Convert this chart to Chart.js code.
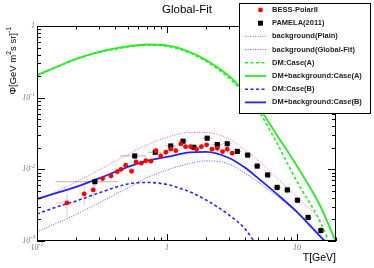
<!DOCTYPE html>
<html>
<head>
<meta charset="utf-8">
<script src="https://cdn.jsdelivr.net/npm/chart.js@4.4.0/dist/chart.umd.min.js"></script>
<style>
html, body { margin: 0; padding: 0; background: #fff; }
#wrap { width: 374px; height: 268px; }
</style>
</head>
<body>
<div id="wrap"><canvas id="fitChart" width="374" height="268"></canvas></div>
<script>
const curveT   = [0.1, 0.15, 0.2, 0.3, 0.5, 0.7, 1, 1.5, 2, 3, 4, 5, 7, 10, 15, 20];
const bgPlain  = [3.62e-3, 5.16e-3, 6.67e-3, 9.8e-3, 0.0161, 0.0219, 0.0279, 0.0327, 0.0327, 0.0265, 0.0184, 0.0135, 7.59e-3, 4.12e-3, 2.03e-3, 1.18e-3];
const bgGlobal = [1.34e-3, 1.85e-3, 2.35e-3, 3.40e-3, 5.5e-3, 7.59e-3, 9.8e-3, 0.0121, 0.0131, 0.0119, 8.77e-3, 6.67e-3, 4.26e-3, 2.47e-3, 1.14e-3, 6.8e-4];
const dmA      = [0.205, 0.278, 0.343, 0.428, 0.508, 0.540, 0.522, 0.420, 0.322, 0.188, 0.110, 0.068, 0.0235, 6.8e-3, 1.9e-3, 5.5e-4];
const dmBgA    = [0.207, 0.281, 0.347, 0.434, 0.518, 0.552, 0.535, 0.434, 0.336, 0.201, 0.118, 0.0766, 0.0302, 0.01115, 3.18e-3, 9.7e-4];
const dmB      = [2.39e-3, 3.09e-3, 3.62e-3, 4.69e-3, 6.26e-3, 6.56e-3, 6.15e-3, 4.84e-3, 3.74e-3, 2.31e-3, 1.47e-3, 8.3e-4, null, null, null, null];
const dmBgB    = [3.86e-3, 4.84e-3, 5.69e-3, 7.46e-3, 0.0108, 0.0131, 0.0149, 0.0172, 0.0175, 0.0144, 0.0105, 7.59e-3, 4.54e-3, 2.55e-3, 1.18e-3, 7.0e-4];

// BESS-PolarII antiprotons
const bessT = [0.170, 0.231, 0.271, 0.320, 0.371, 0.415, 0.443, 0.481, 0.535, 0.578, 0.634, 0.689, 0.753, 0.823, 0.895, 0.982, 1.07, 1.17, 1.28, 1.39, 1.52, 1.69, 1.84, 2.02, 2.22, 2.44, 2.68, 2.91, 3.18];
const bessFlux = [3.40e-3, 4.54e-3, 5.16e-3, 7.42e-3, 8.09e-3, 9.29e-3, 0.0100, 0.0114, 9.41e-3, 0.0127, 0.0122, 0.0132, 0.0130, 0.0182, 0.0154, 0.0173, 0.0191, 0.0182, 0.0226, 0.0207, 0.0207, 0.0191, 0.0207, 0.0220, 0.0191, 0.0197, 0.0177, 0.0191, 0.0168];
const bessTErr = [0.03, 0.02, 0.02, 0.02, 0.02, 0.02, 0.02, 0.02, 0.025, 0.025, 0.03, 0.03, 0.03, 0.035, 0.04, 0.04, 0.045, 0.05, 0.05, 0.06, 0.06, 0.07, 0.07, 0.08, 0.08, 0.09, 0.1, 0.1, 0.11];
const bessFluxErr = [1.2e-3, 1.4e-3, 1.1e-3, 1.0e-3, 1.0e-3, 1.0e-3, 1.0e-3, 1.1e-3, 1.0e-3, 1.2e-3, 1.2e-3, 1.3e-3, 1.3e-3, 1.6e-3, 1.4e-3, 1.5e-3, 1.6e-3, 1.6e-3, 1.8e-3, 1.8e-3, 1.8e-3, 1.8e-3, 1.9e-3, 2.0e-3, 1.9e-3, 2.0e-3, 1.9e-3, 2.0e-3, 2.0e-3];

// PAMELA(2011)
const pamT = [0.279, 0.565, 0.813, 1.07, 1.33, 1.61, 2.04, 2.44, 2.91, 3.48, 4.18, 4.95, 5.96, 7.05, 8.45, 10.1, 12.2, 15.3];
const pamFlux = [6.73e-3, 0.01538, 0.0173, 0.0212, 0.0247, 0.0203, 0.0272, 0.0222, 0.0228, 0.0178, 0.0158, 0.0111, 8.35e-3, 5.6e-3, 5.16e-3, 3.71e-3, 2.13e-3, 1.40e-3];
const pamTErr = [0.14, 0.13, 0.1, 0.1, 0.12, 0.14, 0.16, 0.2, 0.22, 0.26, 0.3, 0.35, 0.4, 0.5, 0.6, 0.7, 0.8, 1.0];
const pamFluxErr = [1.0e-3, 1.5e-3, 1.6e-3, 2.0e-3, 2.2e-3, 2.0e-3, 2.4e-3, 2.0e-3, 2.0e-3, 1.6e-3, 1.4e-3, 1.0e-3, 8e-4, 6e-4, 5.5e-4, 4e-4, 2.5e-4, 1.8e-4];

const xTickMajors = [0.1, 1, 10];
const yTickMajors = [1e-3, 1e-2, 1e-1, 1];

function pts(xs, ys) {
    const out = [];
    xs.forEach((x, i) => { if (ys[i] !== null) out.push({ x: x, y: ys[i] }); });
    return out;
}

// small helper: "10" with a raised exponent
function drawPow(ctx, base, exp, x, y, size, align, style) {
    const big = style + ' ' + size + 'px "Liberation Serif"';
    const small = style + ' ' + (size * 0.72) + 'px "Liberation Serif"';
    ctx.font = big;
    const wb = ctx.measureText(base).width;
    ctx.font = small;
    const we = exp ? ctx.measureText(exp).width : 0;
    const w = wb + we;
    let x0 = x;
    if (align === 'right') x0 = x - w;
    if (align === 'center') x0 = x - w / 2;
    ctx.textAlign = 'left';
    ctx.textBaseline = 'middle';
    ctx.font = big;
    ctx.fillText(base, x0, y);
    if (exp) {
        ctx.font = small;
        ctx.fillText(exp, x0 + wb, y - size * 0.4);
    }
}

function expOf(v) {
    const e = Math.round(Math.log10(v));
    if (e === 0) return ['1', ''];
    if (e === 1) return ['10', ''];
    return ['10', String(e)];
}

const errorBars = {
    id: 'errorBars',
    beforeDatasetsDraw(chart) {
        const ctx = chart.ctx, xs = chart.scales.x, ys = chart.scales.y, a = chart.chartArea;
        ctx.save();
        ctx.beginPath();
        ctx.rect(a.left, a.top, a.width, a.height);
        ctx.clip();
        chart.data.datasets.forEach(ds => {
            if (!ds.xErr) return;
            ctx.strokeStyle = ds.errColor;
            ctx.lineWidth = 1;
            ds.data.forEach((p, i) => {
                const px = xs.getPixelForValue(p.x), py = ys.getPixelForValue(p.y);
                ctx.beginPath();
                ctx.moveTo(xs.getPixelForValue(p.x - ds.xErr[i]), py);
                ctx.lineTo(xs.getPixelForValue(p.x + ds.xErr[i]), py);
                ctx.moveTo(px, ys.getPixelForValue(p.y - ds.yErr[i]));
                ctx.lineTo(px, ys.getPixelForValue(p.y + ds.yErr[i]));
                ctx.stroke();
            });
        });
        ctx.restore();
    }
};

// ROOT-like frame: inside ticks on every side, labels, titles, legend
const rootFrame = {
    id: 'rootFrame',
    afterDraw(chart) {
        const ctx = chart.ctx, xs = chart.scales.x, ys = chart.scales.y, a = chart.chartArea;
        ctx.save();
        ctx.strokeStyle = '#000';
        ctx.lineWidth = 1;
        ctx.strokeRect(Math.round(a.left) + 0.5, Math.round(a.top) + 0.5, Math.round(a.width) - 1, Math.round(a.height) - 1);

        ctx.beginPath();
        for (let d = -1; d <= 1; d++) {
            for (let m = 1; m <= 9; m++) {
                const v = m * Math.pow(10, d);
                if (v < xs.min * 0.999 || v > xs.max * 1.001) continue;
                const px = Math.round(xs.getPixelForValue(v)) + 0.5;
                const len = m === 1 ? 7 : 3.5;
                ctx.moveTo(px, a.bottom); ctx.lineTo(px, a.bottom - len);
                ctx.moveTo(px, a.top); ctx.lineTo(px, a.top + len);
            }
        }
        for (let d = -3; d <= 0; d++) {
            for (let m = 1; m <= 9; m++) {
                const v = m * Math.pow(10, d);
                if (v < ys.min * 0.999 || v > ys.max * 1.001) continue;
                const py = Math.round(ys.getPixelForValue(v)) + 0.5;
                const len = m === 1 ? 8 : 4;
                ctx.moveTo(a.left, py); ctx.lineTo(a.left + len, py);
                ctx.moveTo(a.right, py); ctx.lineTo(a.right - len, py);
            }
        }
        ctx.stroke();

        // tick labels
        ctx.fillStyle = '#777';
        xTickMajors.forEach(v => {
            const l = expOf(v);
            drawPow(ctx, l[0], l[1], xs.getPixelForValue(v), a.bottom + 7, 8, 'center', 'italic');
        });
        yTickMajors.forEach(v => {
            const l = expOf(v);
            drawPow(ctx, l[0], l[1], a.left - 2, ys.getPixelForValue(v), 8, 'right', 'italic');
        });

        // title
        ctx.fillStyle = '#000';
        ctx.font = '11.5px "Liberation Sans"';
        ctx.textAlign = 'center';
        ctx.textBaseline = 'middle';
        ctx.fillText('Global-Fit', 187, 10);

        // x title
        ctx.font = '10.5px "Liberation Sans"';
        ctx.textAlign = 'right';
        ctx.fillText('T[GeV]', a.right, 258);

        // y title, rotated, ending at the top of the frame
        ctx.save();
        ctx.translate(13, a.top + 1);
        ctx.rotate(-Math.PI / 2);
        const parts = [['Φ[GeV m', false], ['2', true], ['s sr]', false], ['-1', true]];
        const fN = '9.5px "Liberation Sans"', fS = '6.8px "Liberation Sans"';
        let w = 0;
        parts.forEach(p => { ctx.font = p[1] ? fS : fN; w += ctx.measureText(p[0]).width; });
        let x = -w;
        ctx.textAlign = 'left';
        parts.forEach(p => {
            ctx.font = p[1] ? fS : fN;
            ctx.fillText(p[0], x, p[1] ? -3.5 : 0);
            x += ctx.measureText(p[0]).width;
        });
        ctx.restore();

        // legend
        const lx = 239, ly = 3, lw = 131, lh = 110;
        ctx.fillStyle = '#fff';
        ctx.fillRect(lx, ly, lw, lh);
        ctx.strokeStyle = '#000';
        ctx.lineWidth = 1;
        ctx.strokeRect(lx + 0.5, ly + 0.5, lw, lh);
        chart.data.datasets.forEach((ds, i) => {
            const cy = 10 + 13.2 * i;
            ctx.save();
            if (ds.showLine) {
                ctx.strokeStyle = ds.borderColor;
                ctx.lineWidth = ds.borderWidth;
                ctx.setLineDash(ds.borderDash || []);
                ctx.beginPath();
                ctx.moveTo(245, cy); ctx.lineTo(266, cy);
                ctx.stroke();
            } else {
                ctx.fillStyle = ds.backgroundColor;
                if (ds.pointStyle === 'rect') {
                    ctx.fillRect(258, cy - 2.5, 5, 5);
                } else {
                    ctx.beginPath();
                    ctx.arc(260.5, cy, ds.pointRadius, 0, Math.PI * 2);
                    ctx.fill();
                }
            }
            ctx.restore();
            ctx.fillStyle = '#222';
            ctx.font = 'bold 7.5px "Liberation Sans"';
            ctx.textAlign = 'left';
            ctx.textBaseline = 'middle';
            ctx.fillText(ds.label, 272, cy);
        });
        ctx.restore();
    }
};

const ctx = document.getElementById('fitChart').getContext('2d');
new Chart(ctx, {
    type: 'scatter',
    data: {
        datasets: [
            { label: 'BESS-PolarII', data: pts(bessT, bessFlux), pointStyle: 'circle', pointRadius: 2.4,
              backgroundColor: '#ff0000', borderWidth: 0, xErr: bessTErr, yErr: bessFluxErr,
              errColor: 'rgba(240,110,110,0.45)', order: 0 },
            { label: 'PAMELA(2011)', data: pts(pamT, pamFlux), pointStyle: 'rect', pointRadius: 3.6,
              backgroundColor: '#000000', borderWidth: 0, xErr: pamTErr, yErr: pamFluxErr,
              errColor: 'rgba(120,120,120,0.55)', order: 0 },
            { label: 'background(Plain)', data: pts(curveT, bgPlain), showLine: true, pointRadius: 0,
              borderColor: '#ff44ff', borderWidth: 1, borderDash: [1, 1.5], cubicInterpolationMode: 'monotone', order: 6 },
            { label: 'background(Global-Fit)', data: pts(curveT, bgGlobal), showLine: true, pointRadius: 0,
              borderColor: '#5555ff', borderWidth: 1, borderDash: [1, 1.5], cubicInterpolationMode: 'monotone', order: 5 },
            { label: 'DM:Case(A)', data: pts(curveT, dmA), showLine: true, pointRadius: 0,
              borderColor: '#22ee22', borderWidth: 1.6, borderDash: [3, 2.5], cubicInterpolationMode: 'monotone', order: 4 },
            { label: 'DM+background:Case(A)', data: pts(curveT, dmBgA), showLine: true, pointRadius: 0,
              borderColor: '#22ee22', borderWidth: 1.8, cubicInterpolationMode: 'monotone', order: 3 },
            { label: 'DM:Case(B)', data: pts(curveT, dmB), showLine: true, pointRadius: 0,
              borderColor: '#2222ff', borderWidth: 1.6, borderDash: [3, 2.5], cubicInterpolationMode: 'monotone', order: 2 },
            { label: 'DM+background:Case(B)', data: pts(curveT, dmBgB), showLine: true, pointRadius: 0,
              borderColor: '#2222ff', borderWidth: 1.8, cubicInterpolationMode: 'monotone', order: 1 }
        ]
    },
    options: {
        responsive: false,
        animation: false,
        layout: { padding: { left: 37, right: 38, top: 26, bottom: 27 } },
        scales: {
            x: { type: 'logarithmic', min: 0.1, max: 20, display: false },
            y: { type: 'logarithmic', min: 1e-3, max: 1, display: false }
        },
        plugins: {
            legend: { display: false },
            tooltip: { enabled: false }
        }
    },
    plugins: [errorBars, rootFrame]
});
</script>
</body>
</html>
